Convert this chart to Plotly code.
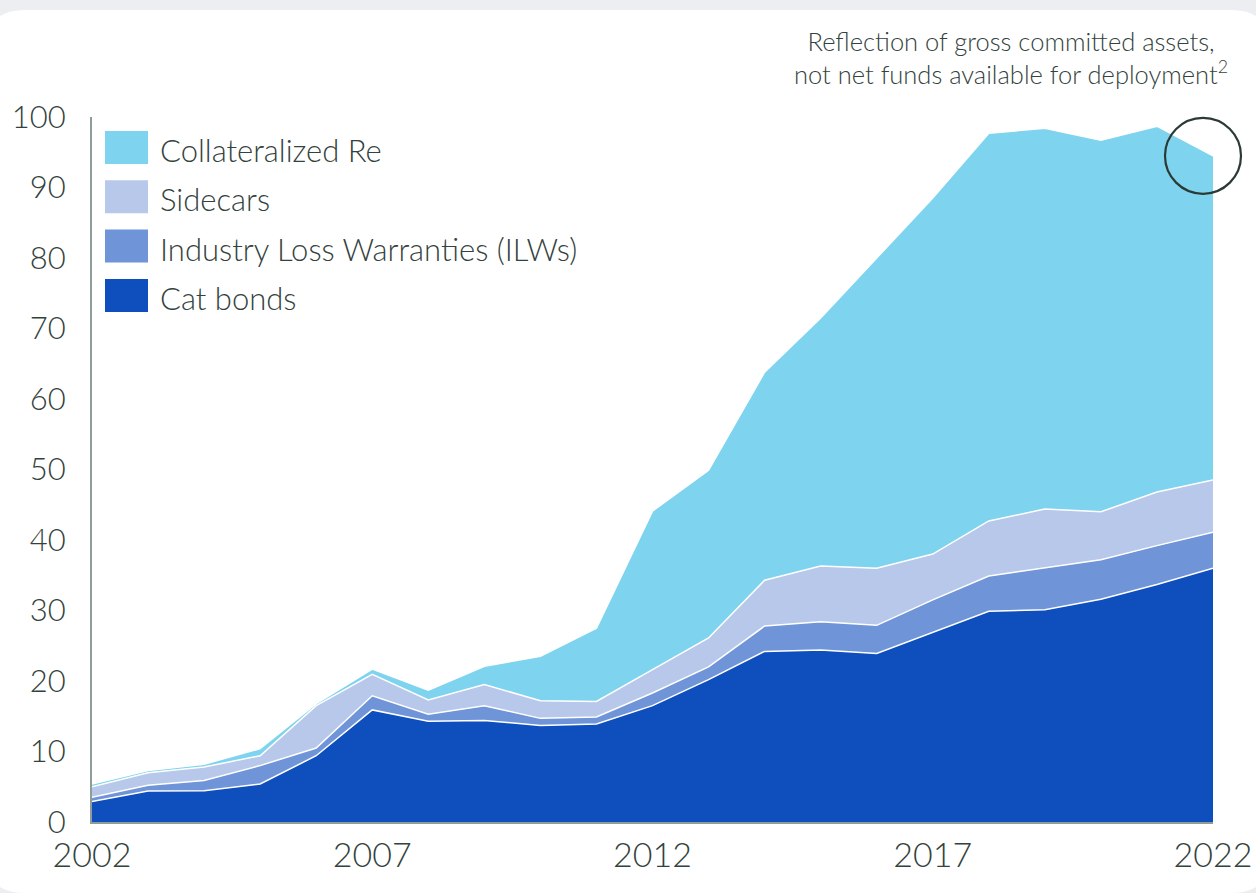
import plotly.graph_objects as go

# Alternative reinsurance capital by instrument, USD bn
years = list(range(2002, 2023))
cat_bonds = [2.9, 4.4, 4.45, 5.4, 9.4, 15.9, 14.3, 14.4, 13.7, 13.9, 16.5,
             20.2, 24.2, 24.4, 23.9, 26.9, 29.9, 30.1, 31.6, 33.7, 36.0]
ilws = [0.6, 0.8, 1.45, 2.6, 1.1, 2.0, 1.0, 2.1, 1.0, 1.0, 1.8,
        1.8, 3.6, 4.0, 4.0, 4.6, 5.0, 6.0, 5.6, 5.5, 5.1]
sidecars = [1.5, 1.8, 1.9, 1.4, 6.0, 3.05, 2.0, 3.0, 2.5, 2.2, 3.3,
            4.1, 6.5, 7.9, 8.1, 6.5, 7.8, 8.3, 6.8, 7.6, 7.4]
collateralized_re = [0.4, 0.3, 0.4, 1.0, 0.3, 0.75, 1.4, 2.6, 6.3, 10.4, 22.5,
                     23.8, 29.5, 35.2, 44.0, 50.5, 55.0, 54.0, 52.7, 51.9, 46.0]

series_names = ["Cat bonds", "Industry Loss Warranties (ILWs)", "Sidecars", "Collateralized Re"]
series_values = [cat_bonds, ilws, sidecars, collateralized_re]
series_colors = ["#0f4ebd", "#6f94d8", "#b7c8ea", "#7ed4ef"]

x_ticks = [2002, 2007, 2012, 2017, 2022]
y_ticks = list(range(0, 101, 10))

note_text = "Reflection of gross committed assets,<br>not net funds available for deployment<sup>2</sup>"

TEXT = "#33423d"
AXIS = "#8e9d98"
FONT = "Lato, Liberation Sans, Arial, sans-serif"
WEIGHT = 300

W, H = 1256, 893
L, R, T, B = 92, 1213, 117, 822


def px(x):
    return (x - L) / (R - L)


def py(y):
    return (B - y) / (B - T)


fig = go.Figure()
for name, vals, col in zip(series_names, series_values, series_colors):
    fig.add_trace(go.Scatter(
        x=years, y=vals, name=name, mode="lines", stackgroup="one",
        line=dict(color="white", width=1.5), fillcolor=col,
        hoverinfo="x+y+name",
    ))

shapes = []
# rounded white card on a light grey page
cl, cr, ct, cb, rad = -15, 1271, 10, 893, 40
card = (f"M {px(cl + rad)},{py(ct)} L {px(cr - rad)},{py(ct)} "
        f"Q {px(cr)},{py(ct)} {px(cr)},{py(ct + rad)} "
        f"L {px(cr)},{py(cb - rad)} Q {px(cr)},{py(cb)} {px(cr - rad)},{py(cb)} "
        f"L {px(cl + rad)},{py(cb)} Q {px(cl)},{py(cb)} {px(cl)},{py(cb - rad)} "
        f"L {px(cl)},{py(ct + rad)} Q {px(cl)},{py(ct)} {px(cl + rad)},{py(ct)} Z")
shapes.append(dict(type="path", path=card, xref="paper", yref="paper",
                   fillcolor="white", line=dict(width=0), layer="below"))

# legend swatches, top entry first
annotations = []
legend_rows = list(zip(series_names, series_colors))[::-1]
for i, (name, col) in enumerate(legend_rows):
    top = 131 + i * 49.3
    shapes.append(dict(type="rect", xref="paper", yref="paper",
                       x0=px(105), x1=px(148), y0=py(top), y1=py(top + 33),
                       fillcolor=col, line=dict(width=0), layer="above"))
    annotations.append(dict(x=px(158), y=py(top + 19), xref="paper", yref="paper",
                            text=name, showarrow=False, xanchor="left", yanchor="middle",
                            font=dict(size=31, color=TEXT, family=FONT, weight=WEIGHT)))

# highlight ring around the latest total (y range is 0..100, so paper y = total / 100)
total_last = cat_bonds[-1] + ilws[-1] + sidecars[-1] + collateralized_re[-1]
shapes.append(dict(type="circle", xref="paper", yref="paper",
                   xsizemode="pixel", xanchor=1, x0=-48, x1=28,
                   ysizemode="pixel", yanchor=total_last / 100, y0=-38, y1=38,
                   line=dict(color="#2c3a35", width=2.2), layer="above"))

annotations.append(dict(x=px(1011), y=py(58), xref="paper", yref="paper",
                        text=note_text, showarrow=False, align="center",
                        xanchor="center", yanchor="middle",
                        font=dict(size=25.5, color=TEXT, family=FONT, weight=WEIGHT)))

fig.update_layout(
    width=W, height=H,
    margin=dict(l=L, r=W - R, t=T, b=H - B, pad=0),
    paper_bgcolor="#eceef1", plot_bgcolor="rgba(0,0,0,0)",
    showlegend=False,
    shapes=shapes, annotations=annotations,
    font=dict(family=FONT, color=TEXT, weight=WEIGHT),
    xaxis=dict(range=[years[0], years[-1]], tickvals=x_ticks,
               ticktext=[str(t) for t in x_ticks], automargin=False,
               showgrid=False, zeroline=False, showline=True,
               linecolor=AXIS, linewidth=2, ticks="",
               ticklabelstandoff=2,
               tickfont=dict(size=34, color=TEXT, family=FONT, weight=WEIGHT)),
    yaxis=dict(range=[0, 100], tickvals=y_ticks, automargin=False,
               showgrid=False, zeroline=False, showline=True,
               linecolor=AXIS, linewidth=2, ticks="",
               ticklabelstandoff=18,
               tickfont=dict(size=31, color=TEXT, family=FONT, weight=WEIGHT)),
)

fig.write_html("out.html")
